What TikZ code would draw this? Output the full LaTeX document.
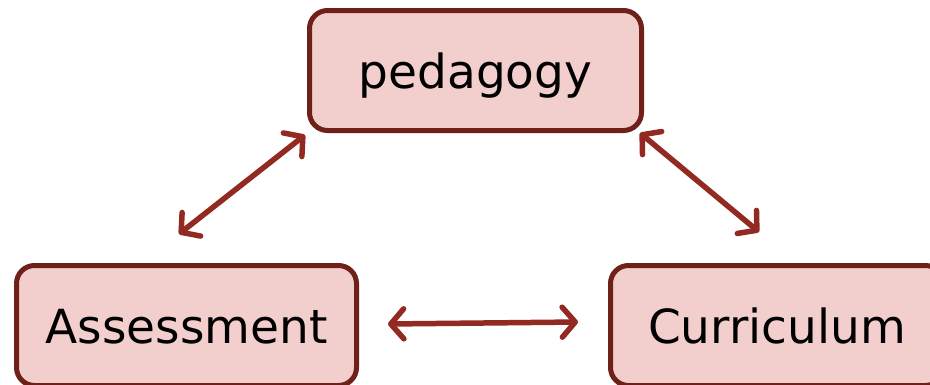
\documentclass[tikz,border=0pt]{standalone}
\usepackage{fontspec}
\setmainfont{DejaVu Sans}
\usetikzlibrary{arrows.meta}
\definecolor{boxborder}{HTML}{6E2019}
\definecolor{boxfill}{HTML}{F2CFCD}
\definecolor{arrowred}{HTML}{922A22}
\tikzset{
  topic/.style={draw=boxborder, fill=boxfill, line width=5pt, rounded corners=18pt,
    minimum height=120pt, text height=36pt, text depth=0pt, inner sep=0pt,
    font=\fontsize{47}{56}\selectfont},
  link/.style={draw=arrowred, line width=5.5pt, line cap=round,
    >={Straight Barb[length=13pt,width=30pt,line width=5.5pt,round]}, <->}
}
\begin{document}
\begin{tikzpicture}[x=1pt,y=1pt]
\useasboundingbox (0,0) rectangle (930,-384);
\node[topic, minimum width=332pt] (ped) at (475.5,-70.5) {pedagogy};
\node[topic, minimum width=340pt] (asm) at (186.5,-325.5) {Assessment};
\node[topic, minimum width=333pt] (cur) at (777,-325.5) {Curriculum};
\coordinate (l1a) at (305,-135);
\coordinate (l1b) at (179,-234);
\coordinate (l2a) at (640,-133);
\coordinate (l2b) at (759,-232);
\coordinate (h1) at (388,-324);
\coordinate (h2) at (578,-322);
\draw[link] (l1a) -- (l1b);
\draw[link] (l2a) -- (l2b);
\draw[link] (h1) -- (h2);
\end{tikzpicture}
\end{document}
